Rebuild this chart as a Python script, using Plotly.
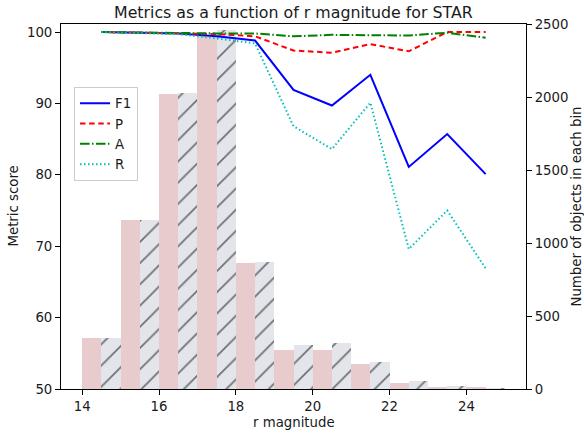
import plotly.graph_objects as go

# ---- data ----
bin_lefts = [14, 15, 16, 17, 18, 19, 20, 21, 22, 23, 24]
bin_width = 1.0
f1 = [100.0, 99.9, 99.8, 99.4, 98.8, 91.9, 89.7, 94.0, 81.1, 85.7, 80.1]
prec = [100.0, 99.9, 99.9, 99.7, 99.4, 97.4, 97.1, 98.3, 97.3, 100.0, 100.0]
acc = [100.0, 99.9, 99.9, 99.8, 99.8, 99.4, 99.6, 99.6, 99.5, 99.9, 99.2]
rec = [100.0, 99.9, 99.7, 99.1, 98.4, 86.8, 83.6, 90.1, 69.6, 75.0, 66.9]
counts_a = [350, 1160, 2020, 2420, 865, 267, 267, 171, 41, 14, 7]
counts_b = [350, 1160, 2030, 2460, 870, 301, 313, 185, 55, 21, 5]

x_ticks = [14, 16, 18, 20, 22, 24]
score_ticks = [50, 60, 70, 80, 90, 100]
count_ticks = [0, 500, 1000, 1500, 2000, 2500]

centers = [b + bin_width / 2 for b in bin_lefts]
half = bin_width / 2
x_a = [b + half / 2 for b in bin_lefts]
x_b = [b + half + half / 2 for b in bin_lefts]

FONT = "DejaVu Sans"
TXT = "#1a1a1a"

fig = go.Figure()

fig.add_trace(go.Bar(x=x_a, y=counts_a, width=half, yaxis="y",
                     marker=dict(color="rgb(232,204,205)", line=dict(width=0)),
                     showlegend=False, hoverinfo="skip"))
fig.add_trace(go.Bar(x=x_b, y=counts_b, width=half, yaxis="y",
                     marker=dict(color="rgb(228,229,235)", line=dict(width=0),
                                 pattern=dict(shape="/", fgcolor="#000000",
                                              bgcolor="rgb(228,229,235)",
                                              size=15, solidity=0.12)),
                     showlegend=False, hoverinfo="skip"))

lines = [
    ("F1", f1, "#0000ff", "solid"),
    ("P", prec, "#ff0000", "5.5px,3.6px"),
    ("A", acc, "#008000", "9.6px,2.4px,1.5px,2.4px"),
    ("R", rec, "#00bfbf", "1.5px,2.5px"),
]
for name, vals, col, dash in lines:
    fig.add_trace(go.Scatter(x=centers, y=vals, name=name, mode="lines",
                             yaxis="y2",
                             line=dict(color=col, width=2, dash=dash)))

axis_common = dict(showgrid=False, zeroline=False, showline=True,
                   linecolor="black", linewidth=1, ticks="outside",
                   ticklen=5, tickwidth=1, tickcolor="black",
                   tickfont=dict(family=FONT, size=13.3, color=TXT))

fig.update_layout(
    width=584, height=434,
    margin=dict(l=61, r=58, t=24, b=45, pad=0),
    paper_bgcolor="white", plot_bgcolor="white",
    barmode="overlay", bargap=0,
    font=dict(family=FONT, size=13.3, color=TXT),
    xaxis=dict(range=[13.45, 25.55], tickvals=x_ticks, mirror=True,
               **axis_common),
    yaxis=dict(range=[0, 2500], tickvals=count_ticks, side="right",
               **axis_common),
    yaxis2=dict(range=[50, 101.12], tickvals=score_ticks, side="left",
                overlaying="y", **axis_common),
    legend=dict(x=0.028, y=0.827, xanchor="left", yanchor="top",
                bgcolor="white", bordercolor="#cccccc", borderwidth=1,
                font=dict(family=FONT, size=13.3, color=TXT),
                itemwidth=30, tracegroupgap=0),
    annotations=[
        dict(text="Metrics as a function of r magnitude for STAR",
             xref="paper", yref="paper", x=0.5, y=1,
             yshift=12, xanchor="center", yanchor="middle", showarrow=False,
             font=dict(family=FONT, size=15.8, color=TXT)),
        dict(text="r magnitude", xref="paper", yref="paper",
             x=0.5, y=0, yshift=-33, xanchor="center", yanchor="middle",
             showarrow=False, font=dict(family=FONT, size=13.3, color=TXT)),
        dict(text="Metric score", xref="paper", yref="paper",
             x=0, xshift=-48, y=0.5, textangle=-90, xanchor="center",
             yanchor="middle", showarrow=False,
             font=dict(family=FONT, size=13.3, color=TXT)),
        dict(text="Number of objects in each bin", xref="paper", yref="paper",
             x=1, xshift=50, y=0.5, textangle=-90, xanchor="center",
             yanchor="middle", showarrow=False,
             font=dict(family=FONT, size=13.3, color=TXT)),
    ],
)

fig.write_html("out.html")
